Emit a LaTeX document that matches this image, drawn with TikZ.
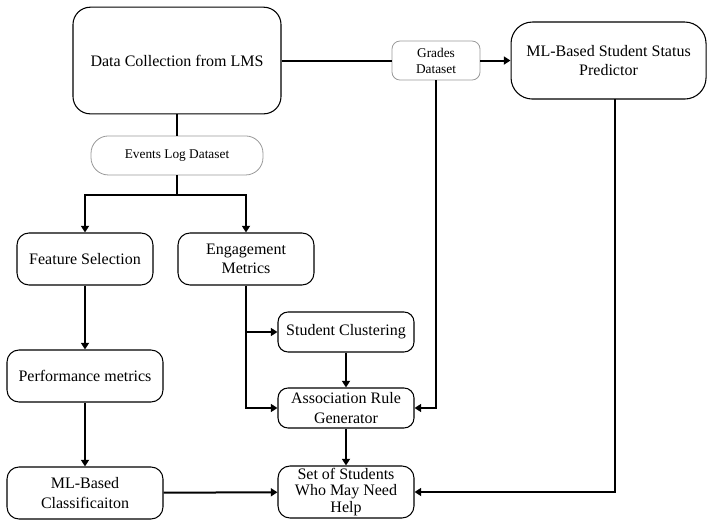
\documentclass[tikz,border=0pt]{standalone}
\usepackage{fontspec}
\setmainfont{Liberation Serif}
\usetikzlibrary{arrows.meta}

\begin{document}
\begin{tikzpicture}
[every node/.style={inner sep=0pt, align=center},
 stage/.style={rectangle, rounded corners=9pt, draw=black, line width=0.8pt, fill=white, font=\fontsize{12}{14.5}\selectfont},
 bigstage/.style={stage, rounded corners=14pt},
 dataset/.style={rectangle, draw=black!40, line width=0.6pt, fill=white, font=\fontsize{10}{12}\selectfont},
 link/.style={line width=1.5pt, color=black},
 flow/.style={link, -{Triangle[length=5pt, width=6pt]}}]
\useasboundingbox (0pt, 0pt) rectangle (534.75pt, -392.25pt);
\node (lms) [bigstage, minimum width=156pt, minimum height=80pt, rounded corners=13pt] at (132.75pt, -45.4pt) {Data Collection from LMS};
\node (events) [dataset, minimum width=129pt, minimum height=29.25pt, rounded corners=13pt] at (132.75pt, -116.6pt) {Events Log Dataset};
\node (grades) [dataset, minimum width=66pt, minimum height=29.25pt, rounded corners=6pt] at (327pt, -45.4pt) {Grades\\Dataset};
\node (predictor) [bigstage, minimum width=146.25pt, minimum height=57.75pt, rounded corners=16pt] at (456.4pt, -45.4pt) {ML-Based Student Status\\Predictor};
\node (featsel) [stage, minimum width=102pt, minimum height=39pt] at (63.75pt, -194.25pt) {Feature Selection};
\node (engage) [stage, minimum width=102pt, minimum height=39pt] at (184.5pt, -194.25pt) {Engagement\\Metrics};
\node (perf) [stage, minimum width=117pt, minimum height=39pt] at (63.75pt, -282pt) {Performance metrics};
\node (mlclass) [stage, minimum width=117pt, minimum height=39pt] at (63.75pt, -369.75pt) {ML-Based\\Classificaiton};
\node (cluster) [stage, minimum width=102pt, minimum height=30pt, rounded corners=7.5pt] at (259.5pt, -249pt) {Student Clustering};
\node (rules) [stage, minimum width=102pt, minimum height=30pt, rounded corners=7.5pt] at (259.5pt, -306pt) {Association Rule\\Generator};
\node (help) [stage, minimum width=102pt, minimum height=39pt, font=\fontsize{12}{12.4}\selectfont] at (259.5pt, -369pt) {Set of Students\\Who May Need\\Help};
\coordinate (split) at (132.75pt, -146.25pt);
\coordinate (predout) at (461.25pt, -74.3pt);
\draw [link] (lms) to (events);
\draw [link] (events) to (split);
\draw [flow] (split) -| (featsel.north);
\draw [flow] (split) -| (engage.north);
\draw [link] (lms) to (grades);
\draw [flow] (grades) to (predictor);
\draw [flow] (featsel) to (perf);
\draw [flow] (perf) to (mlclass);
\draw [flow] (engage.south) |- (cluster.west);
\draw [flow] (engage.south) |- (rules.west);
\draw [flow] (cluster) to (rules);
\draw [flow] (grades.south) |- (rules.east);
\draw [flow] (rules) to (help);
\draw [flow] (mlclass) to (help);
\draw [flow] (predout) |- (help.east);
\end{tikzpicture}
\end{document}
